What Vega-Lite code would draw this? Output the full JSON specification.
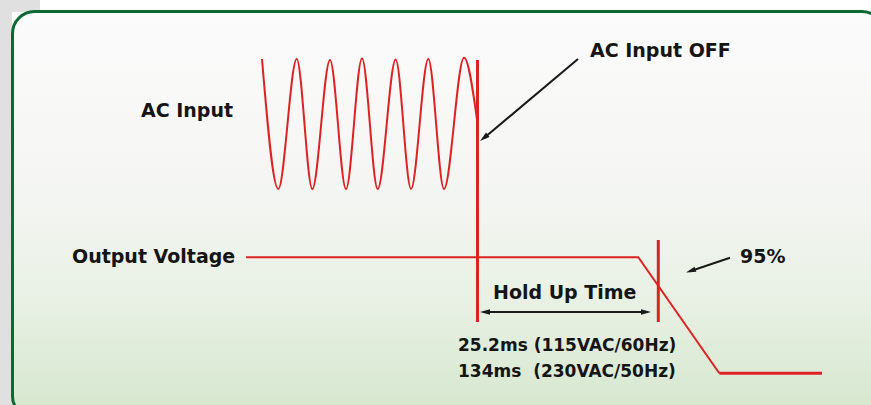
{
  "$schema": "https://vega.github.io/schema/vega-lite/v6.json",
  "width": 871,
  "height": 405,
  "padding": 0,
  "autosize": {"type": "none"},
  "background": "#ffffff",
  "config": {"view": {"stroke": null}},
  "datasets": {
    "strip": [{"x": 0, "x2": 12, "y": 0, "y2": 405}, {"x": 0, "x2": 40, "y": 0, "y2": 12}],
    "frame": [{"x": 12.5, "x2": 884, "y": 11.5, "y2": 418}],
    "wave": [
      {"x": 262, "y": 59}, {"x": 278.3, "y": 189}, {"x": 296.7, "y": 59}, {"x": 312.3, "y": 189},
      {"x": 330, "y": 60}, {"x": 346, "y": 189}, {"x": 362, "y": 58.5}, {"x": 377.7, "y": 189},
      {"x": 395.7, "y": 59.5}, {"x": 411, "y": 189}, {"x": 428.3, "y": 59}, {"x": 444, "y": 189},
      {"x": 464, "y": 57.7}, {"x": 477.5, "y": 123}
    ],
    "output": [{"x": 246, "y": 257.3}, {"x": 638.3, "y": 257.3}, {"x": 719.3, "y": 373.3}],
    "outputLow": [{"x": 719.3, "y": 373.3}, {"x": 822, "y": 373.3}],
    "markers": [{"x": 477.5, "y": 60, "y2": 322}, {"x": 658.3, "y": 240, "y2": 322}],
    "shafts": [
      {"x": 578, "y": 59, "x2": 484, "y2": 138},
      {"x": 730, "y": 257.7, "x2": 690, "y2": 271.3},
      {"x": 484, "y": 312, "x2": 647, "y2": 312}
    ],
    "headOff": [{"x": 483.9, "y": 137.9}],
    "head95": [{"x": 690.7, "y": 270.9}],
    "headLeft": [{"x": 485, "y": 312}],
    "headRight": [{"x": 646, "y": 312}],
    "labels19": [
      {"x": 141, "y": 117.3, "text": "AC Input"},
      {"x": 590, "y": 57.3, "text": "AC Input OFF"},
      {"x": 740, "y": 263.3, "text": "95%"},
      {"x": 493, "y": 299.3, "text": "Hold Up Time"},
      {"x": 72, "y": 262.7, "text": "Output Voltage"}
    ],
    "labels17": [
      {"x": 458, "y": 350.7, "text": "25.2ms (115VAC/60Hz)"},
      {"x": 458, "y": 376.7, "text": "134ms\u00a0 (230VAC/50Hz)"}
    ]
  },
  "encoding": {
    "x": {"field": "x", "type": "quantitative", "scale": {"domain": [0, 871], "nice": false, "zero": false}, "axis": null},
    "y": {"field": "y", "type": "quantitative", "scale": {"domain": [0, 405], "nice": false, "zero": false, "reverse": true}, "axis": null}
  },
  "layer": [
    {
      "data": {"name": "strip"},
      "mark": {"type": "rect", "fill": "#e0e0e0"},
      "encoding": {"x2": {"field": "x2"}, "y2": {"field": "y2"}}
    },
    {
      "data": {"name": "frame"},
      "mark": {
        "type": "rect",
        "cornerRadius": 22,
        "stroke": "#0b6a33",
        "strokeWidth": 3,
        "fill": {
          "gradient": "linear",
          "x1": 0, "y1": 0, "x2": 0, "y2": 1,
          "stops": [
            {"offset": 0, "color": "#fbfbfb"},
            {"offset": 0.4, "color": "#f5f6f4"},
            {"offset": 0.7, "color": "#e9f1e5"},
            {"offset": 1, "color": "#d5e7cd"}
          ]
        }
      },
      "encoding": {"x2": {"field": "x2"}, "y2": {"field": "y2"}}
    },
    {
      "data": {"name": "wave"},
      "mark": {"type": "line", "color": "#dc2323", "strokeWidth": 2, "interpolate": "monotone"},
      "encoding": {}
    },
    {
      "data": {"name": "output"},
      "mark": {"type": "line", "color": "#dc2323", "strokeWidth": 2},
      "encoding": {}
    },
    {
      "data": {"name": "outputLow"},
      "mark": {"type": "line", "color": "#dc2323", "strokeWidth": 3},
      "encoding": {}
    },
    {
      "data": {"name": "markers"},
      "mark": {"type": "rule", "color": "#dc2323", "strokeWidth": 3},
      "encoding": {"y2": {"field": "y2"}}
    },
    {
      "data": {"name": "shafts"},
      "mark": {"type": "rule", "color": "#1a1a1a", "strokeWidth": 2},
      "encoding": {"x2": {"field": "x2"}, "y2": {"field": "y2"}}
    },
    {
      "data": {"name": "headOff"},
      "mark": {"type": "point", "shape": "M0,-1L0.55,1L-0.55,1Z", "filled": true, "color": "#1a1a1a", "size": 100, "angle": 231, "opacity": 1}
    },
    {
      "data": {"name": "head95"},
      "mark": {"type": "point", "shape": "M0,-1L0.55,1L-0.55,1Z", "filled": true, "color": "#1a1a1a", "size": 100, "angle": 251, "opacity": 1}
    },
    {
      "data": {"name": "headLeft"},
      "mark": {"type": "point", "shape": "M0,-1L0.55,1L-0.55,1Z", "filled": true, "color": "#1a1a1a", "size": 100, "angle": 270, "opacity": 1}
    },
    {
      "data": {"name": "headRight"},
      "mark": {"type": "point", "shape": "M0,-1L0.55,1L-0.55,1Z", "filled": true, "color": "#1a1a1a", "size": 100, "angle": 90, "opacity": 1}
    },
    {
      "data": {"name": "labels19"},
      "mark": {"type": "text", "font": "DejaVu Sans", "fontWeight": "bold", "fontSize": 19, "align": "left", "baseline": "alphabetic", "color": "#151515"},
      "encoding": {"text": {"field": "text"}}
    },
    {
      "data": {"name": "labels17"},
      "mark": {"type": "text", "font": "DejaVu Sans", "fontWeight": "bold", "fontSize": 17, "align": "left", "baseline": "alphabetic", "color": "#151515"},
      "encoding": {"text": {"field": "text"}}
    }
  ]
}
